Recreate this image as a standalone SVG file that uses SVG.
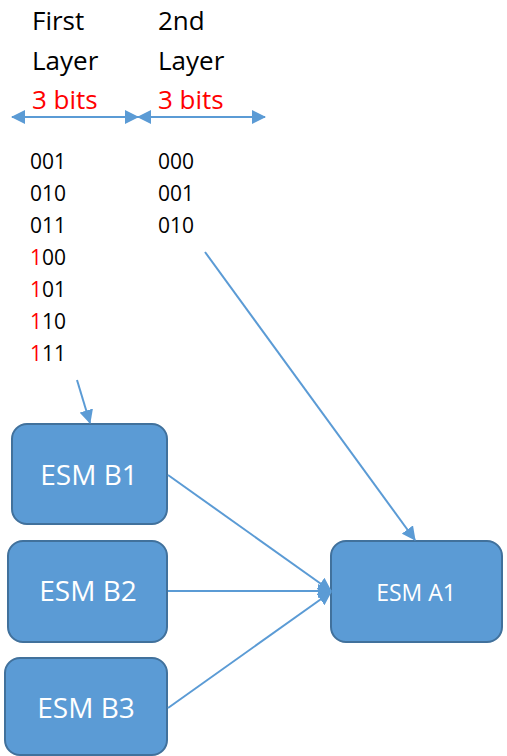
<svg xmlns="http://www.w3.org/2000/svg" width="507" height="756" viewBox="0 0 507 756">
<defs>
<marker id="ah" markerUnits="userSpaceOnUse" markerWidth="14" markerHeight="14" viewBox="0 0 14 14" refX="13" refY="7" orient="auto-start-reverse">
<path d="M0,0 L14,7 L0,14 Z" fill="#5B9BD5"/>
</marker>
<style>
.t{font-family:"Open Sans","Liberation Sans",sans-serif;fill:#000}
.h{font-size:26px}
.n{font-size:21px}
.r{fill:#FF0000}
.box{fill:#5B9BD5;stroke:#41719C;stroke-width:2}
.bl{font-family:"Open Sans","Liberation Sans",sans-serif;fill:#fff;text-anchor:middle}
.c{stroke:#5B9BD5;stroke-width:2;fill:none;marker-end:url(#ah)}
</style>
</defs>
<rect width="507" height="756" fill="#fff"/>
<g id="labels">
<text class="t h" x="32" y="30">First</text>
<text class="t h" x="32" y="70">Layer</text>
<text class="t h r" x="32" y="109">3 bits</text>
<text class="t h" x="158" y="30">2nd</text>
<text class="t h" x="158" y="70">Layer</text>
<text class="t h r" x="158" y="109">3 bits</text>
</g>
<g id="codes1">
<text class="t n" x="30" y="169">001</text>
<text class="t n" x="30" y="201">010</text>
<text class="t n" x="30" y="233">011</text>
<text class="t n" x="30" y="265"><tspan class="r">1</tspan>00</text>
<text class="t n" x="30" y="297"><tspan class="r">1</tspan>01</text>
<text class="t n" x="30" y="329"><tspan class="r">1</tspan>10</text>
<text class="t n" x="30" y="361"><tspan class="r">1</tspan>11</text>
</g>
<g id="codes2">
<text class="t n" x="158" y="169">000</text>
<text class="t n" x="158" y="201">001</text>
<text class="t n" x="158" y="233">010</text>
</g>
<g id="B1"><rect class="box" x="12" y="424" width="155" height="100" rx="15"/><text class="bl" x="89" y="485" font-size="28">ESM B1</text></g>
<g id="B2"><rect class="box" x="8" y="541" width="159" height="101" rx="15"/><text class="bl" x="88" y="601" font-size="28">ESM B2</text></g>
<g id="B3"><rect class="box" x="5" y="658" width="162" height="97" rx="15"/><text class="bl" x="86" y="718" font-size="28">ESM B3</text></g>
<g id="A1"><rect class="box" x="331" y="541" width="171" height="101" rx="15"/><text class="bl" x="416" y="601" font-size="23">ESM A1</text></g>
<g id="connectors">
<line x1="12" y1="117" x2="138" y2="117" stroke="#5B9BD5" stroke-width="2" marker-start="url(#ah)" marker-end="url(#ah)"/>
<line x1="138" y1="117" x2="265" y2="117" stroke="#5B9BD5" stroke-width="2" marker-start="url(#ah)" marker-end="url(#ah)"/>
<line class="c" x1="77" y1="380" x2="90" y2="423"/>
<line class="c" x1="205" y1="252" x2="415" y2="540"/>
<line class="c" x1="168" y1="475" x2="331" y2="591"/>
<line class="c" x1="168" y1="591" x2="331" y2="591"/>
<line class="c" x1="168" y1="708" x2="331" y2="592"/>
</g>
</svg>
